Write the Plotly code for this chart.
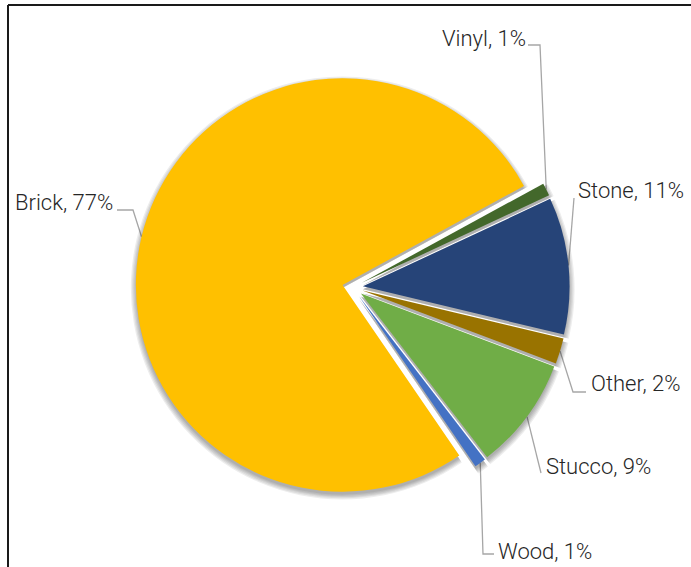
import math
import plotly.graph_objects as go

# ---- data ----
categories = ["Brick", "Vinyl", "Stone", "Other", "Stucco", "Wood"]
shares = [76.6, 1.0, 10.7, 2.0, 8.8, 0.9]
colors = ["#FFC000", "#43682B", "#264478", "#997300", "#70AD47", "#4472C4"]

# ---- layout constants (pixels) ----
W, H = 691, 567
CX, CY = 352.6, 287.4      # pie centre
R = 206.7                  # pie radius
PULL = 0.05                # explosion as fraction of radius
ROT = 145.6                # start angle of first slice (clockwise from 12 o'clock)

# label placement: text anchor x, y, xanchor, leader-line points from label towards slice
label_layout = {
    "Brick":  (113, 202, "right", [(117, 210), (133, 210)]),
    "Vinyl":  (526, 38, "right", [(528, 45), (540, 45)]),
    "Stone":  (578, 190, "left", [(574, 198)]),
    "Other":  (591, 383, "left", [(586, 392), (573, 392)]),
    "Stucco": (546, 466, "left", [(541, 473)]),
    "Wood":   (498, 551, "left", [(494, 554), (483, 554)]),
}


def pie_domain(cx, cy, r):
    half = r * (1 + PULL)
    return dict(x=[(cx - half) / W, (cx + half) / W],
                y=[1 - (cy + half) / H, 1 - (cy - half) / H])


fig = go.Figure()

# soft shadow layers
for k in range(5):
    fig.add_trace(go.Pie(
        labels=categories, values=shares, sort=False, direction="clockwise",
        rotation=ROT, pull=[PULL] * len(shares),
        marker=dict(colors=["rgba(0,0,0,0.07)"] * len(shares), line=dict(width=0)),
        textinfo="none", hoverinfo="skip", showlegend=False,
        domain=pie_domain(CX, CY + 3, R + 1.2 * k),
    ))

# main pie
fig.add_trace(go.Pie(
    labels=categories, values=shares, sort=False, direction="clockwise",
    rotation=ROT, pull=[PULL] * len(shares),
    marker=dict(colors=colors, line=dict(width=0)),
    textinfo="none", hoverinfo="label+percent", showlegend=False,
    domain=pie_domain(CX, CY, R),
))

# leader lines + labels computed from slice angles
total = sum(shares)
angle = ROT
annotations = []
for cat, v in zip(categories, shares):
    span = 360.0 * v / total
    mid = math.radians(angle + span / 2)
    angle += span
    ux, uy = math.sin(mid), -math.cos(mid)
    d = PULL * R
    px = CX + (d + R) * ux
    py = CY + (d + R) * uy
    tx, ty, anchor, pts = label_layout[cat]
    xs = [p[0] for p in pts] + [px]
    ys = [p[1] for p in pts] + [py]
    fig.add_trace(go.Scatter(x=xs, y=ys, mode="lines",
                             line=dict(color="#A6A6A6", width=1.3),
                             hoverinfo="skip", showlegend=False))
    pct = round(100 * v / total)
    annotations.append(dict(
        x=tx, y=ty, xref="x", yref="y", text=f"{cat}, {pct}%",
        showarrow=False, xanchor=anchor, yanchor="middle",
        borderpad=0, borderwidth=0,
        font=dict(family="Roboto", size=22, color="#262626", weight=300),
    ))

fig.update_layout(
    width=W, height=H,
    margin=dict(l=0, r=0, t=0, b=0),
    paper_bgcolor="white", plot_bgcolor="rgba(0,0,0,0)",
    xaxis=dict(range=[0, W], visible=False, fixedrange=True),
    yaxis=dict(range=[H, 0], visible=False, fixedrange=True),
    annotations=annotations,
    shapes=[
        dict(type="line", xref="paper", yref="paper", x0=8 / W, x1=1.02,
             y0=1 - 5 / H, y1=1 - 5 / H, line=dict(color="#1a1a1a", width=2)),
        dict(type="line", xref="paper", yref="paper", x0=8 / W, x1=8 / W,
             y0=1 - 5 / H, y1=-0.02, line=dict(color="#1a1a1a", width=2)),
    ],
)

fig.write_html("out.html")
